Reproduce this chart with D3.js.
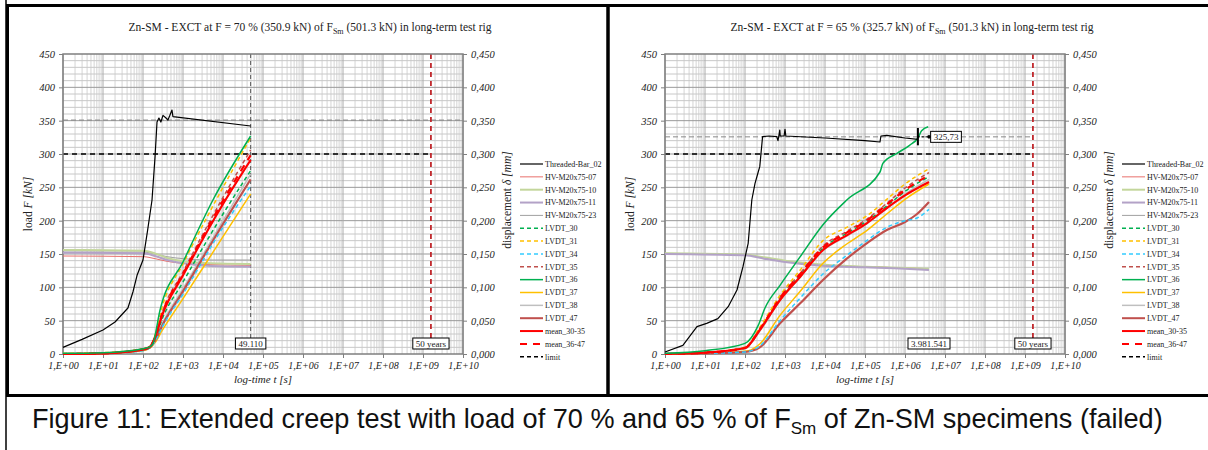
<!DOCTYPE html>
<html>
<head>
<meta charset="utf-8">
<script src="https://cdn.jsdelivr.net/npm/d3@7"></script>
<style>
body { margin:0; background:#fff; }
svg { display:block; }
</style>
</head>
<body>
<svg id="chart" width="1208" height="450"></svg>
<script>
// ---- data ----
var seriesNames = ['Threaded-Bar_02','HV-M20x75-07','HV-M20x75-10','HV-M20x75-11','HV-M20x75-23',
  'LVDT_30','LVDT_31','LVDT_34','LVDT_35','LVDT_36','LVDT_37','LVDT_38','LVDT_47','mean_30-35','mean_36-47','limit'];
var xTickLabels = ['1,E+00','1,E+01','1,E+02','1,E+03','1,E+04','1,E+05','1,E+06','1,E+07','1,E+08','1,E+09','1,E+10'];
var loadTicks = [0,50,100,150,200,250,300,350,400,450];
var dispTicks = [0,0.05,0.1,0.15,0.2,0.25,0.3,0.35,0.4,0.45];

var leftEnd = 49110, rightEnd = 3981541, fiftyYears = 1.5779e9;
var leftLoad = 350.9, rightLoad = 325.73, limitLoad = 300;

// left panel, 70 %  ([t s, F kN] or [t s, displacement mm])
var l_bar = [[1,10],[3,22],[10,36],[20,48],[42,69],[56,93],[71,118],[100,141],[130,185],[168,231],[200,296],[224,348],
  [250,354],[280,348],[316,358],[376,354],[420,351],[470,358],[530,366],[560,356],[49110,342]];
var l_hv07 = [[1,147],[100,146],[200,143],[400,139],[1000,136],[5000,134],[49110,133]];
var l_hv10 = [[1,156],[100,155],[200,151],[400,144],[1000,139],[5000,136],[49110,135]];
var l_hv11 = [[1,152],[100,151],[200,147],[400,141],[1000,136],[5000,132],[49110,131]];
var l_hv23 = [[1,153],[100,153],[200,150],[400,146],[1000,143],[5000,141],[49110,141]];
var l_v30 = [[1,0],[10,0.001],[100,0.006],[150,0.010],[200,0.023],[300,0.052],[1000,0.108],[10000,0.210],[49110,0.275]];
var l_v31 = [[1,0.001],[10,0.002],[100,0.008],[150,0.011],[200,0.028],[300,0.070],[1000,0.135],[10000,0.250],[49110,0.324]];
var l_v34 = [[1,0],[10,0.001],[100,0.005],[150,0.010],[200,0.019],[300,0.040],[1000,0.090],[10000,0.190],[49110,0.252]];
var l_v35 = [[1,0],[10,0.001],[100,0.007],[150,0.011],[200,0.026],[300,0.062],[1000,0.123],[10000,0.235],[49110,0.306]];
var l_v36 = [[1,0.001],[10,0.002],[100,0.008],[150,0.011],[178,0.016],[267,0.066],[1000,0.138],[5600,0.231],[49110,0.327]];
var l_v37 = [[1,0],[10,0.001],[100,0.005],[150,0.009],[200,0.017],[300,0.035],[1000,0.083],[10000,0.176],[49110,0.240]];
var l_v38 = [[1,0],[10,0.001],[100,0.006],[150,0.010],[200,0.021],[300,0.045],[1000,0.098],[10000,0.200],[49110,0.270]];
var l_v47 = [[1,0],[10,0.001],[100,0.006],[150,0.010],[200,0.020],[300,0.042],[1000,0.094],[10000,0.195],[49110,0.262]];
var l_m3035 = [[1,0],[10,0.001],[100,0.007],[150,0.011],[200,0.025],[300,0.058],[1000,0.118],[10000,0.225],[49110,0.291]];
var l_m3647 = [[1,0],[10,0.001],[100,0.007],[150,0.011],[200,0.025],[300,0.060],[1000,0.120],[10000,0.230],[49110,0.298]];

// right panel, 65 %
var r_bar = [[1,3],[2.8,13],[6.3,41],[11,46],[21,53],[38,71],[63,96],[89,131],[120,166],[148,231],[178,256],[214,273],
  [234,281],[275,326],[400,327],[620,326],[668,320],[700,327],[740,336],[760,327],[950,327],[1000,337],[1050,327],
  [10000,324],[100000,320],[237000,318],[250000,327],[350000,328],[1000000,324],[2100000,322]];
var r_hv07 = [[1,150],[100,149],[300,144],[1000,139],[10000,133],[100000,131],[1000000,129],[3981541,128]];
var r_hv10 = [[1,151],[100,149],[300,145],[1000,140],[10000,134],[100000,131],[1000000,129],[3981541,128]];
var r_hv11 = [[1,150],[100,148],[300,143],[1000,138],[10000,132],[100000,130],[1000000,128],[3981541,126]];
var r_hv23 = [[1,151],[100,149],[300,144],[1000,139],[10000,133],[100000,131],[1000000,129],[3981541,127]];
var r_v30 = [[1,0],[10,0.002],[100,0.009],[234,0.036],[750,0.083],[2400,0.119],[8900,0.159],[35000,0.181],[110000,0.199],[350000,0.222],[1000000,0.244],[3981541,0.266]];
var r_v31 = [[1,0],[10,0.002],[100,0.010],[234,0.040],[750,0.088],[2400,0.126],[8900,0.170],[35000,0.190],[110000,0.207],[350000,0.232],[1000000,0.255],[3981541,0.278]];
var r_v34 = [[1,0],[10,0.001],[100,0.003],[234,0.012],[750,0.050],[2400,0.084],[8900,0.120],[35000,0.148],[110000,0.170],[350000,0.190],[1000000,0.200],[2000000,0.204],[3981541,0.217]];
var r_v35 = [[1,0],[10,0.002],[100,0.010],[234,0.038],[750,0.085],[2400,0.121],[8900,0.162],[35000,0.184],[110000,0.202],[350000,0.226],[1000000,0.249],[3981541,0.272]];
var r_v36 = [[1,0.001],[10,0.005],[100,0.016],[214,0.043],[316,0.069],[750,0.103],[2400,0.146],[8900,0.194],[35000,0.231],[237000,0.273],[280000,0.286],[630000,0.301],[1300000,0.313],[2100000,0.324],[2600000,0.335],[3800000,0.341]];
var r_v37 = [[1,0],[10,0.001],[100,0.004],[234,0.015],[750,0.058],[2400,0.094],[8900,0.136],[35000,0.165],[110000,0.185],[350000,0.210],[1000000,0.232],[3981541,0.255]];
var r_v38 = [[1,0],[10,0.002],[100,0.008],[234,0.034],[750,0.080],[2400,0.115],[8900,0.155],[35000,0.177],[110000,0.195],[350000,0.218],[1000000,0.240],[3981541,0.262]];
var r_v47 = [[1,0],[10,0.001],[100,0.003],[234,0.010],[750,0.046],[2400,0.076],[8900,0.111],[35000,0.143],[110000,0.166],[350000,0.186],[1000000,0.198],[2000000,0.210],[3981541,0.228]];
var r_m3035 = [[1,0],[10,0.002],[100,0.009],[234,0.036],[750,0.081],[2400,0.116],[8900,0.156],[35000,0.178],[110000,0.196],[350000,0.219],[1000000,0.238],[3981541,0.258]];
var r_m3647 = [[1,0],[10,0.002],[100,0.009],[234,0.037],[750,0.084],[2400,0.120],[8900,0.160],[35000,0.182],[110000,0.200],[350000,0.224],[1000000,0.246],[3981541,0.268]];

// ---- styles ----
var styles = {
  'Threaded-Bar_02': {c:'#000000', w:1.2, d:null},
  'HV-M20x75-07': {c:'#e8706c', w:1, d:null},
  'HV-M20x75-10': {c:'#c3d69b', w:2, d:null},
  'HV-M20x75-11': {c:'#b3a2c7', w:2, d:null},
  'HV-M20x75-23': {c:'#a0a0a0', w:1, d:null},
  'LVDT_30': {c:'#00b050', w:1.5, d:'4,3'},
  'LVDT_31': {c:'#ffc000', w:1.5, d:'4,3'},
  'LVDT_34': {c:'#33ccff', w:1.5, d:'4,3'},
  'LVDT_35': {c:'#c0504d', w:1.5, d:'4,3'},
  'LVDT_36': {c:'#00b050', w:1.5, d:null},
  'LVDT_37': {c:'#ffc000', w:1.5, d:null},
  'LVDT_38': {c:'#bfbfbf', w:1.5, d:null},
  'LVDT_47': {c:'#c0504d', w:2.2, d:null},
  'mean_30-35': {c:'#ff0000', w:2.2, d:null},
  'mean_36-47': {c:'#ff0000', w:2.2, d:'7,6'},
  'limit': {c:'#000000', w:1.5, d:'4,3'}
};

var svg = d3.select('#chart');
var serif = '"Liberation Serif","Times New Roman",serif';

// table / frame lines
svg.append('line').attr('x1',6).attr('x2',6).attr('y1',0).attr('y2',450).attr('stroke','#000').attr('stroke-width',1.5);
svg.append('line').attr('x1',6).attr('x2',1208).attr('y1',395.5).attr('y2',395.5).attr('stroke','#000').attr('stroke-width',1.5);
svg.append('rect').attr('x',7.5).attr('y',5.5).attr('width',600.5).attr('height',390).attr('fill','none').attr('stroke','#000').attr('stroke-width',3);
svg.append('rect').attr('x',608).attr('y',5.5).attr('width',602).attr('height',390).attr('fill','none').attr('stroke','#000').attr('stroke-width',3);

function panel(o) {
  var x0 = o.x0, x1 = o.x0 + 400, y0 = 54, y1 = 354;
  var xs = d3.scaleLog().domain([1,1e10]).range([x0,x1]);
  var ys = d3.scaleLinear().domain([0,450]).range([y1,y0]);
  var ys2 = d3.scaleLinear().domain([0,0.45]).range([y1,y0]);
  var g = svg.append('g');

  // grid
  var minorT = [];
  for (var d=0; d<10; d++) for (var k=2; k<10; k++) minorT.push(k*Math.pow(10,d));
  g.selectAll('.vmin').data(minorT).enter().append('line')
    .attr('x1',function(t){return xs(t);}).attr('x2',function(t){return xs(t);})
    .attr('y1',y0).attr('y2',y1).attr('stroke','#d4d4d4').attr('stroke-width',1);
  var minorF = d3.range(10,450,10);
  g.selectAll('.hmin').data(minorF).enter().append('line')
    .attr('x1',x0).attr('x2',x1).attr('y1',function(f){return ys(f);}).attr('y2',function(f){return ys(f);})
    .attr('stroke', function(f){return f%50==0 ? '#999' : '#c8c8c8';}).attr('stroke-width',1);
  var decades = d3.range(0,11).map(function(i){return Math.pow(10,i);});
  g.selectAll('.vmaj').data(decades).enter().append('line')
    .attr('x1',function(t){return xs(t);}).attr('x2',function(t){return xs(t);})
    .attr('y1',y0).attr('y2',y1).attr('stroke','#aaa').attr('stroke-width',1);

  // reference lines
  g.append('line').attr('x1',x0).attr('x2',o.refTo=='end'?x1:xs(fiftyYears))
    .attr('y1',ys(o.ref)).attr('y2',ys(o.ref)).attr('stroke','#888').attr('stroke-width',1).attr('stroke-dasharray','5,3');
  g.append('line').attr('x1',x0).attr('x2',xs(fiftyYears)).attr('y1',ys(limitLoad)).attr('y2',ys(limitLoad))
    .attr('stroke','#000').attr('stroke-width',1.5).attr('stroke-dasharray','5,4');
  if (o.endLine) {
    g.append('line').attr('x1',xs(o.end)).attr('x2',xs(o.end)).attr('y1',y0).attr('y2',338)
      .attr('stroke','#555').attr('stroke-width',1).attr('stroke-dasharray','4,3');
  }
  g.append('line').attr('x1',xs(fiftyYears)).attr('x2',xs(fiftyYears)).attr('y1',y0).attr('y2',338)
    .attr('stroke','#c0282c').attr('stroke-width',1.8).attr('stroke-dasharray','5,4');

  // border
  g.append('rect').attr('x',x0).attr('y',y0).attr('width',400).attr('height',300)
    .attr('fill','none').attr('stroke','#7f7f7f').attr('stroke-width',1.5);

  // axes
  var ax = g.append('g').attr('transform','translate(0,'+y1+')')
    .call(d3.axisBottom(xs).tickValues(decades).tickSize(4).tickPadding(4)
      .tickFormat(function(t,i){return xTickLabels[i];}));
  var al = g.append('g').attr('transform','translate('+x0+',0)')
    .call(d3.axisLeft(ys).tickValues(loadTicks).tickSize(4).tickPadding(4));
  var ar = g.append('g').attr('transform','translate('+x1+',0)')
    .call(d3.axisRight(ys2).tickValues(dispTicks).tickSize(4).tickPadding(4)
      .tickFormat(function(v){return d3.format('.3f')(v).replace('.',',');}));
  [ax,al,ar].forEach(function(a){
    a.select('.domain').remove();
    a.selectAll('line').attr('stroke','#7f7f7f');
    a.selectAll('text').attr('font-family',serif).attr('font-style','italic').attr('font-size',10.5).attr('fill','#222');
  });
  ax.selectAll('text').attr('font-size',10);

  // titles
  var tt = g.append('text').attr('x',x0+247).attr('y',31).attr('text-anchor','middle')
    .attr('font-family',serif).attr('font-size',11.5).attr('fill','#222');
  tt.append('tspan').text(o.title1 + 'F');
  tt.append('tspan').attr('font-size',8).attr('dy',3).text('Sm');
  tt.append('tspan').attr('dy',-3).text(' (501.3 kN) in long-term test rig');

  var yl = g.append('text').attr('transform','translate('+(x0-31)+','+204+') rotate(-90)')
    .attr('text-anchor','middle').attr('font-family',serif).attr('font-size',11.5).attr('fill','#222');
  yl.append('tspan').text('load ');
  yl.append('tspan').attr('font-style','italic').text('F [kN]');
  var yr = g.append('text').attr('transform','translate('+(x1+48)+','+200+') rotate(-90)')
    .attr('text-anchor','middle').attr('font-family',serif).attr('font-size',11.5).attr('fill','#222');
  yr.append('tspan').text('displacement ');
  yr.append('tspan').attr('font-style','italic').text('\u03b4 [mm]');
  g.append('text').attr('x',x0+200).attr('y',383).attr('text-anchor','middle')
    .attr('font-family',serif).attr('font-style','italic').attr('font-size',11).attr('fill','#222')
    .text('log-time t [s]');

  // curves
  var lineF = d3.line().x(function(p){return xs(p[0]);}).y(function(p){return ys(p[1]);}).curve(d3.curveMonotoneX);
  var lineD = d3.line().x(function(p){return xs(p[0]);}).y(function(p){return ys2(p[1]);}).curve(d3.curveMonotoneX);
  var lineBar = d3.line().x(function(p){return xs(p[0]);}).y(function(p){return ys(p[1]);});
  function draw(name, data, fn) {
    var s = styles[name];
    g.append('path').attr('d', fn(data)).attr('fill','none').attr('stroke',s.c)
      .attr('stroke-width',s.w).attr('stroke-dasharray',s.d).attr('stroke-linejoin','round');
  }
  draw('HV-M20x75-23', o.hv23, lineF);
  draw('HV-M20x75-07', o.hv07, lineF);
  draw('HV-M20x75-10', o.hv10, lineF);
  draw('HV-M20x75-11', o.hv11, lineF);
  draw('LVDT_38', o.v38, lineD);
  draw('LVDT_37', o.v37, lineD);
  draw('LVDT_47', o.v47, lineD);
  draw('LVDT_34', o.v34, lineD);
  draw('LVDT_30', o.v30, lineD);
  draw('LVDT_35', o.v35, lineD);
  draw('LVDT_31', o.v31, lineD);
  draw('mean_30-35', o.m3035, lineD);
  draw('mean_36-47', o.m3647, lineD);
  draw('LVDT_36', o.v36, lineD);
  draw('Threaded-Bar_02', o.bar, lineBar);

  // failure marker (right panel)
  if (o.marker) {
    var mt = o.bar[o.bar.length-1][0];
    g.append('line').attr('x1',xs(mt)).attr('x2',xs(mt)).attr('y1',ys(339)).attr('y2',ys(313))
      .attr('stroke','#000').attr('stroke-width',2);
    g.append('line').attr('x1',xs(mt)).attr('x2',xs(o.end)+3).attr('y1',ys(o.ref)).attr('y2',ys(o.ref))
      .attr('stroke','#000').attr('stroke-width',1).attr('stroke-dasharray','2,2');
    g.append('circle').attr('cx',xs(o.end)).attr('cy',ys(o.ref)).attr('r',1.8).attr('fill','#000');
    box(xs(o.end)+17, ys(o.ref), '325,73');
  }

  function box(cx, cy, txt) {
    var t = g.append('text').attr('x',cx).attr('y',cy+3).attr('text-anchor','middle')
      .attr('font-family',serif).attr('font-size',9).attr('fill','#222').text(txt);
    var w = t.node().getComputedTextLength() + 6;
    g.insert('rect', function(){return t.node();}).attr('x',cx-w/2).attr('y',cy-5.5).attr('width',w).attr('height',11)
      .attr('fill','#fff').attr('stroke','#000').attr('stroke-width',1);
  }
  box(xs(o.end), 343.5, o.endLabel);
  box(xs(fiftyYears), 343.5, '50 years');

  // legend
  var lg = g.append('g').attr('transform','translate('+(x1+57)+',164)');
  seriesNames.forEach(function(n,i){
    var s = styles[n];
    var yy = i*12.85;
    lg.append('line').attr('x1',0).attr('x2',23).attr('y1',yy).attr('y2',yy)
      .attr('stroke',s.c).attr('stroke-width',Math.min(s.w,2)).attr('stroke-dasharray',s.d);
    lg.append('text').attr('x',25).attr('y',yy+2.8).attr('font-family',serif).attr('font-size',8)
      .attr('fill','#222').text(n);
  });
}

panel({x0:63, title1:'Zn-SM - EXCT at F = 70 % (350.9 kN) of ', ref:leftLoad, refTo:'end', end:leftEnd, endLabel:'49.110', endLine:true,
  bar:l_bar, hv07:l_hv07, hv10:l_hv10, hv11:l_hv11, hv23:l_hv23,
  v30:l_v30, v31:l_v31, v34:l_v34, v35:l_v35, v36:l_v36, v37:l_v37, v38:l_v38, v47:l_v47, m3035:l_m3035, m3647:l_m3647});
panel({x0:665, title1:'Zn-SM - EXCT at F = 65 % (325.7 kN) of ', ref:rightLoad, refTo:'fifty', end:rightEnd, endLabel:'3.981.541', endLine:false, marker:true,
  bar:r_bar, hv07:r_hv07, hv10:r_hv10, hv11:r_hv11, hv23:r_hv23,
  v30:r_v30, v31:r_v31, v34:r_v34, v35:r_v35, v36:r_v36, v37:r_v37, v38:r_v38, v47:r_v47, m3035:r_m3035, m3647:r_m3647});

// caption, fitted to span x 32..1163 as in the reference
var capG = svg.append('g');
var cap = capG.append('text').attr('x',0).attr('y',0)
  .attr('font-family','"Liberation Sans",Arial,sans-serif').attr('font-size',27).attr('fill','#111');
cap.append('tspan').text('Figure 11: Extended creep test with load of 70 % and 65 % of F');
cap.append('tspan').attr('font-size',17).attr('dy',6).text('Sm');
cap.append('tspan').attr('dy',-6).text(' of Zn-SM specimens (failed)');
var cw = cap.node().getBBox().width;
capG.attr('transform','translate(32,428) scale(' + (1131/cw) + ',1)');
</script>
</body>
</html>
